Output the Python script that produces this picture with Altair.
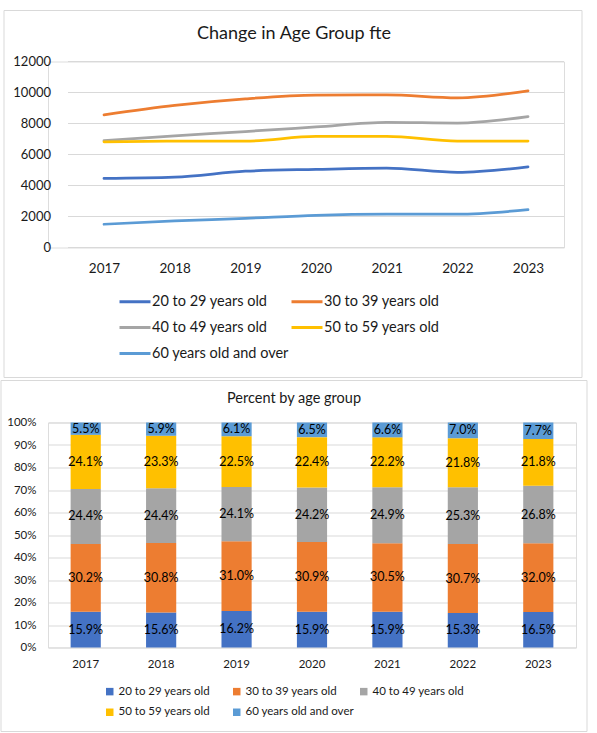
import altair as alt
import pandas as pd

FONT = "Lato"
TXT = "#1a1a1a"
GRID = "#d9d9d9"

years = ["2017", "2018", "2019", "2020", "2021", "2022", "2023"]
groups = ["20 to 29 years old", "30 to 39 years old", "40 to 49 years old",
          "50 to 59 years old", "60 years old and over"]
colors = ["#4472C4", "#ED7D31", "#A5A5A5", "#FFC000", "#5B9BD5"]

# FTE by age group (top chart)
fte_20 = [4460, 4540, 4920, 5040, 5120, 4850, 5200]
fte_30 = [8560, 9170, 9590, 9830, 9850, 9660, 10110]
fte_40 = [6900, 7200, 7480, 7780, 8080, 8030, 8450]
fte_50 = [6820, 6860, 6860, 7170, 7170, 6870, 6870]
fte_60 = [1500, 1710, 1880, 2080, 2150, 2150, 2440]
fte_ticks = [0, 2000, 4000, 6000, 8000, 10000, 12000]

# Percent by age group (bottom chart)
pct_20 = [15.9, 15.6, 16.2, 15.9, 15.9, 15.3, 16.5]
pct_30 = [30.2, 30.8, 31.0, 30.9, 30.5, 30.7, 32.0]
pct_40 = [24.4, 24.4, 24.1, 24.2, 24.9, 25.3, 26.8]
pct_50 = [24.1, 23.3, 22.5, 22.4, 22.2, 21.8, 21.8]
pct_60 = [5.5, 5.9, 6.1, 6.5, 6.6, 7.0, 7.7]
pct_ticks = [0, 0.1, 0.2, 0.3, 0.4, 0.5, 0.6, 0.7, 0.8, 0.9, 1.0]

titles = ["Change in Age Group fte", "Percent by age group"]

fte_series = [fte_20, fte_30, fte_40, fte_50, fte_60]
pct_series = [pct_20, pct_30, pct_40, pct_50, pct_60]

fte_df = pd.DataFrame([
    {"year": y, "group": g, "idx": i, "fte": v}
    for i, (g, vals) in enumerate(zip(groups, fte_series))
    for y, v in zip(years, vals)
])
pct_df = pd.DataFrame([
    {"year": y, "group": g, "idx": i, "pct": v}
    for i, (g, vals) in enumerate(zip(groups, pct_series))
    for y, v in zip(years, vals)
])
grid_df = pd.DataFrame({"v": fte_ticks})
one_df = pd.DataFrame({"k": [0]})

# ---------------- top chart ----------------
W1, H1 = 516, 186
yscale1 = alt.Scale(domain=[0, 12000], nice=False)

frame1 = alt.Chart(one_df).mark_rect(fill=None, stroke=GRID, strokeWidth=1).encode(
    x=alt.value(-44), x2=alt.value(534), y=alt.value(-51), y2=alt.value(316)
)
title1 = alt.Chart(one_df).mark_text(
    text=titles[0], font=FONT, fontSize=18, color=TXT,
    align="center", baseline="middle"
).encode(x=alt.value(246), y=alt.value(-28))

grid1 = alt.Chart(grid_df).mark_rule(color=GRID, strokeWidth=1).encode(
    x=alt.value(20), x2=alt.value(516), y=alt.Y("v:Q", scale=yscale1, axis=None)
)
ylab1 = alt.Chart(grid_df).mark_text(
    font=FONT, fontSize=13, color=TXT, align="right", baseline="middle"
).encode(
    x=alt.value(3), y=alt.Y("v:Q", scale=yscale1, axis=None), text=alt.Text("v:Q", format="d")
)
lines = alt.Chart(fte_df).mark_line(
    strokeWidth=2.75, interpolate="monotone", strokeCap="round"
).encode(
    x=alt.X("year:O", title=None,
            scale=alt.Scale(type="point", range=[56, 480], padding=0),
            axis=alt.Axis(labelAngle=0, ticks=False, domain=False, grid=False,
                          labelPadding=14, labelFont=FONT, labelFontSize=13.5,
                          labelColor=TXT)),
    y=alt.Y("fte:Q", scale=yscale1, axis=None),
    color=alt.Color("group:N", sort=groups,
                    scale=alt.Scale(domain=groups, range=colors),
                    legend=alt.Legend(title=None, orient="none", direction="horizontal",
                                      legendX=70, legendY=223,
                                      columns=2, symbolType="stroke", symbolSize=961,
                                      symbolStrokeWidth=3, labelFont=FONT,
                                      labelFontSize=14.5, labelColor=TXT, labelOffset=0,
                                      columnPadding=-4, rowPadding=2, gridAlign="all",
                                      padding=0)),
    order=alt.Order("idx:Q"),
)

top = alt.layer(frame1, title1, grid1, ylab1, lines).properties(width=W1, height=H1)

# ---------------- bottom chart ----------------
W2, H2 = 528, 225
base = alt.Chart(pct_df).transform_stack(
    stack="pct", groupby=["year"], sort=[alt.SortField("idx", order="ascending")],
    as_=["s0", "s1"], offset="normalize"
).transform_calculate(
    mid="(datum.s0 + datum.s1) / 2",
    label="format(datum.pct, '.1f') + '%'"
)
yscale2 = alt.Scale(domain=[0, 1], nice=False)
xscale2 = alt.Scale(paddingInner=0.6, paddingOuter=0.3)
xaxis2 = alt.Axis(labelAngle=0, ticks=False, domain=False, grid=False,
                  labelPadding=11, labelFont=FONT, labelFontSize=11.5, labelColor=TXT)
yaxis2 = alt.Axis(format="%", values=pct_ticks, tickCount=11, ticks=False, domain=False,
                  grid=True, gridColor=GRID, labelPadding=12, labelFont=FONT,
                  labelFontSize=11.5, labelColor=TXT, labelOverlap=False)

frame2 = alt.Chart(one_df).mark_rect(fill=None, stroke=GRID, strokeWidth=1).encode(
    x=alt.value(-47), x2=alt.value(539), y=alt.value(-42), y2=alt.value(309)
)
title2 = alt.Chart(one_df).mark_text(
    text=titles[1], font=FONT, fontSize=14.5, color=TXT,
    align="center", baseline="middle"
).encode(x=alt.value(246), y=alt.value(-24))

bars = base.mark_bar().encode(
    x=alt.X("year:O", title=None, scale=xscale2, axis=xaxis2),
    y=alt.Y("s0:Q", title=None, scale=yscale2, axis=yaxis2),
    y2="s1:Q",
    color=alt.Color("group:N", sort=groups,
                    scale=alt.Scale(domain=groups, range=colors),
                    legend=alt.Legend(title=None, orient="none", direction="horizontal",
                                      legendX=56, legendY=263,
                                      columns=3, symbolType="square", symbolSize=56,
                                      labelFont=FONT, labelFontSize=11.5, labelColor=TXT,
                                      labelOffset=3, columnPadding=4, rowPadding=8,
                                      gridAlign="all", padding=0, symbolStrokeWidth=0)),
)
labels = base.mark_text(font=FONT, fontSize=12.5, color="#000000",
                        align="center", baseline="middle").encode(
    x=alt.X("year:O", title=None, scale=xscale2, axis=xaxis2),
    y=alt.Y("mid:Q", title=None, scale=yscale2, axis=yaxis2),
    text="label:N",
)

bottom = alt.layer(frame2, title2, bars, labels).properties(width=W2, height=H2)

chart = alt.vconcat(top, bottom, spacing=1).resolve_scale(
    color="independent", x="independent", y="independent"
).properties(
    padding={"left": 0, "top": 9.5, "right": 0, "bottom": 0}
).configure_view(stroke=None).configure(background="white")

chart.save("out.html", embed_options={"renderer": "svg", "actions": False})
